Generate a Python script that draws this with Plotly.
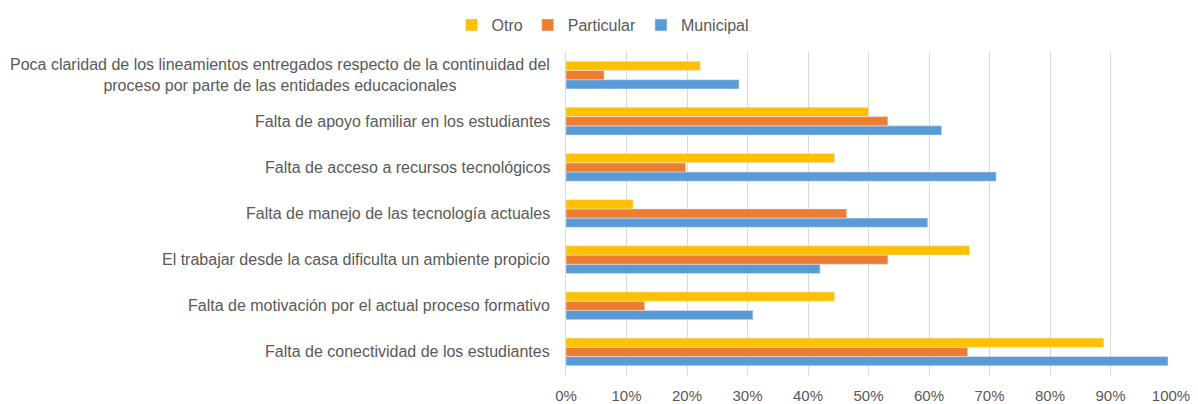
import plotly.graph_objects as go

categories = [
    "Poca claridad de los lineamientos entregados respecto de la continuidad del<br>proceso por parte de las entidades educacionales",
    "Falta de apoyo familiar en los estudiantes",
    "Falta de acceso a recursos tecnológicos",
    "Falta de manejo de las tecnología actuales",
    "El trabajar desde la casa dificulta un ambiente propicio",
    "Falta de motivación por el actual proceso formativo",
    "Falta de conectividad de los estudiantes",
]
otro = [0.222, 0.50, 0.444, 0.111, 0.667, 0.444, 0.889]
particular = [0.063, 0.532, 0.198, 0.464, 0.532, 0.13, 0.664]
municipal = [0.286, 0.621, 0.711, 0.598, 0.42, 0.309, 0.995]
tick_vals = [0, 0.1, 0.2, 0.3, 0.4, 0.5, 0.6, 0.7, 0.8, 0.9, 1.0]
tick_text = ["0%", "10%", "20%", "30%", "40%", "50%", "60%", "70%", "80%", "90%", "100%"]

# plot bottom-up so first category sits at top
cats_rev = categories[::-1]

fig = go.Figure()
fig.add_trace(go.Bar(name="Municipal", y=cats_rev, x=municipal[::-1], orientation="h",
                     marker=dict(color="#5B9BD5")))
fig.add_trace(go.Bar(name="Particular", y=cats_rev, x=particular[::-1], orientation="h",
                     marker=dict(color="#ED7D31")))
fig.add_trace(go.Bar(name="Otro", y=cats_rev, x=otro[::-1], orientation="h",
                     marker=dict(color="#FFC000")))

font_family = "Liberation Sans"
annotations = []
for c in categories:
    annotations.append(dict(text=c, x=0, xref="paper", y=c, yref="y", xanchor="right",
                            xshift=-14, showarrow=False, align="center",
                            font=dict(family=font_family, size=16, color="#595959")))

fig.update_layout(
    width=1190, height=396,
    margin=dict(l=558, r=27, t=44, b=29, autoexpand=False),
    paper_bgcolor="white", plot_bgcolor="white",
    barmode="group", bargap=0.4, bargroupgap=0,
    font=dict(family=font_family, size=15, color="#595959"),
    legend=dict(orientation="h", x=0.5, xref="container", xanchor="center", y=1.0, yref="container",
                yanchor="top", traceorder="reversed", font=dict(size=16, color="#595959"),
                itemwidth=30, tracegroupgap=0),
    annotations=annotations,
    showlegend=True,
)
fig.update_xaxes(range=[0, 1.0], tickvals=tick_vals, ticktext=tick_text, showgrid=True,
                 gridcolor="#D9D9D9", zeroline=False, showline=False, ticks="",
                 ticklabelstandoff=10,
                 automargin=False, tickfont=dict(size=15, color="#595959"))
fig.update_yaxes(showticklabels=False, showline=True, linecolor="#D9D9D9", ticks="",
                 automargin=False, categoryorder="array", categoryarray=cats_rev)

fig.write_html("out.html")
